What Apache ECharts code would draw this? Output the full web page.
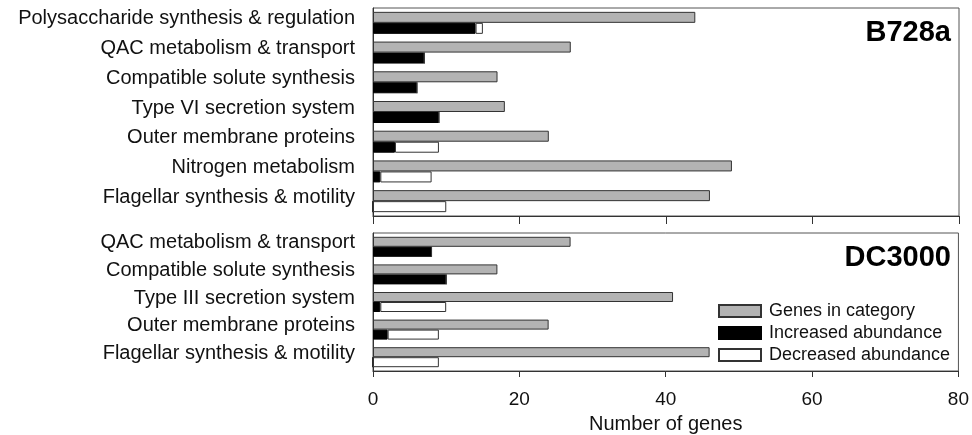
<!DOCTYPE html>
<html>
<head>
<meta charset="utf-8">
<script src="https://cdn.jsdelivr.net/npm/echarts@6/dist/echarts.min.js"></script>
<style>
    html, body { margin: 0; padding: 0; background: #fff; }
    #chart { width: 972px; height: 435px; }
</style>
</head>
<body>
<div id="chart"></div>
<script>
// B728a panel
const b728aCategories = [
    "Polysaccharide synthesis & regulation",
    "QAC metabolism & transport",
    "Compatible solute synthesis",
    "Type VI secretion system",
    "Outer membrane proteins",
    "Nitrogen metabolism",
    "Flagellar synthesis & motility",
];
const b728aGenes = [44, 27, 17, 18, 24, 49, 46];
const b728aIncreased = [14, 7, 6, 9, 3, 1, 0];
const b728aDecreased = [1, 0, 0, 0, 6, 7, 10];

// DC3000 panel
const dc3000Categories = [
    "QAC metabolism & transport",
    "Compatible solute synthesis",
    "Type III secretion system",
    "Outer membrane proteins",
    "Flagellar synthesis & motility",
];
const dc3000Genes = [27, 17, 41, 24, 46];
const dc3000Increased = [8, 10, 1, 2, 0];
const dc3000Decreased = [0, 0, 9, 7, 9];

const xTicks = [0, 20, 40, 60, 80];

const fontFamily = "Liberation Sans, Arial, sans-serif";
const textColor = "#111";
const borderColor = "#333";

const seriesNames = ["Genes in category", "Increased abundance", "Decreased abundance"];
const seriesStyles = [
    { color: "#b3b3b3", borderColor: borderColor, borderWidth: 1 },
    { color: "#000000", borderColor: "#000", borderWidth: 1 },
    { color: "#ffffff", borderColor: borderColor, borderWidth: 1 },
];

function panelSeries(axisIndex, genes, increased, decreased, barWidth) {
    let stackName = `change-${axisIndex}`;
    return [genes, increased, decreased].map((values, i) => {
        return {
            name: seriesNames[i],
            type: "bar",
            xAxisIndex: axisIndex,
            yAxisIndex: axisIndex,
            stack: i == 0 ? null : stackName,
            barWidth: barWidth,
            barGap: "0%",
            data: values,
            itemStyle: seriesStyles[i],
            emphasis: { disabled: true },
            animation: false,
        };
    });
}

function categoryAxis(gridIndex, categories) {
    return {
        type: "category",
        gridIndex: gridIndex,
        data: categories,
        inverse: true,
        axisLine: { lineStyle: { color: borderColor, width: 1 } },
        axisTick: { alignWithLabel: true, length: 6, lineStyle: { color: borderColor } },
        axisLabel: {
            color: textColor,
            fontFamily: fontFamily,
            fontSize: 20,
            margin: 18,
            // labels sit next to the grey bar, a little above the band centre
            verticalAlign: "bottom",
            lineHeight: 8,
        },
    };
}

function valueAxis(gridIndex, showLabels) {
    return {
        type: "value",
        gridIndex: gridIndex,
        min: xTicks[0],
        max: xTicks[xTicks.length - 1],
        interval: xTicks[1] - xTicks[0],
        splitLine: { show: false },
        axisLine: { show: true, lineStyle: { color: borderColor, width: 1 } },
        axisTick: { show: true, length: showLabels ? 6 : 8, lineStyle: { color: borderColor } },
        axisLabel: {
            show: showLabels,
            color: textColor,
            fontFamily: fontFamily,
            fontSize: 19,
            margin: 19,
            showMinLabel: true,
            showMaxLabel: true,
        },
        name: showLabels ? "Number of genes" : "",
        nameLocation: "middle",
        nameGap: 43,
        nameTextStyle: { color: textColor, fontFamily: fontFamily, fontSize: 20 },
    };
}

const chart = echarts.init(document.getElementById("chart"), null, { renderer: "canvas" });

chart.setOption({
    backgroundColor: "#fff",
    animation: false,
    grid: [
        { left: 373, right: 13, top: 8, height: 208, show: true, borderColor: "#555", borderWidth: 1 },
        { left: 373, right: 13, top: 233, height: 138, show: true, borderColor: "#555", borderWidth: 1 },
    ],
    title: [
        {
            text: "B728a",
            right: 21,
            top: 18,
            padding: 0,
            textStyle: { fontFamily: fontFamily, fontSize: 29, fontWeight: "bold", color: "#000" },
        },
        {
            text: "DC3000",
            right: 21,
            top: 243,
            padding: 0,
            textStyle: { fontFamily: fontFamily, fontSize: 29, fontWeight: "bold", color: "#000" },
        },
    ],
    legend: {
        data: seriesNames,
        orient: "vertical",
        left: 718,
        top: 302,
        icon: "rect",
        itemWidth: 42,
        itemHeight: 12,
        itemGap: 4,
        padding: 0,
        selectedMode: false,
        textStyle: { color: textColor, fontFamily: fontFamily, fontSize: 18, padding: [0, 0, 0, 3] },
    },
    xAxis: [valueAxis(0, false), valueAxis(1, true)],
    yAxis: [categoryAxis(0, b728aCategories), categoryAxis(1, dc3000Categories)],
    series: [
        ...panelSeries(0, b728aGenes, b728aIncreased, b728aDecreased, 11),
        ...panelSeries(1, dc3000Genes, dc3000Increased, dc3000Decreased, 10),
    ],
});
</script>
</body>
</html>
